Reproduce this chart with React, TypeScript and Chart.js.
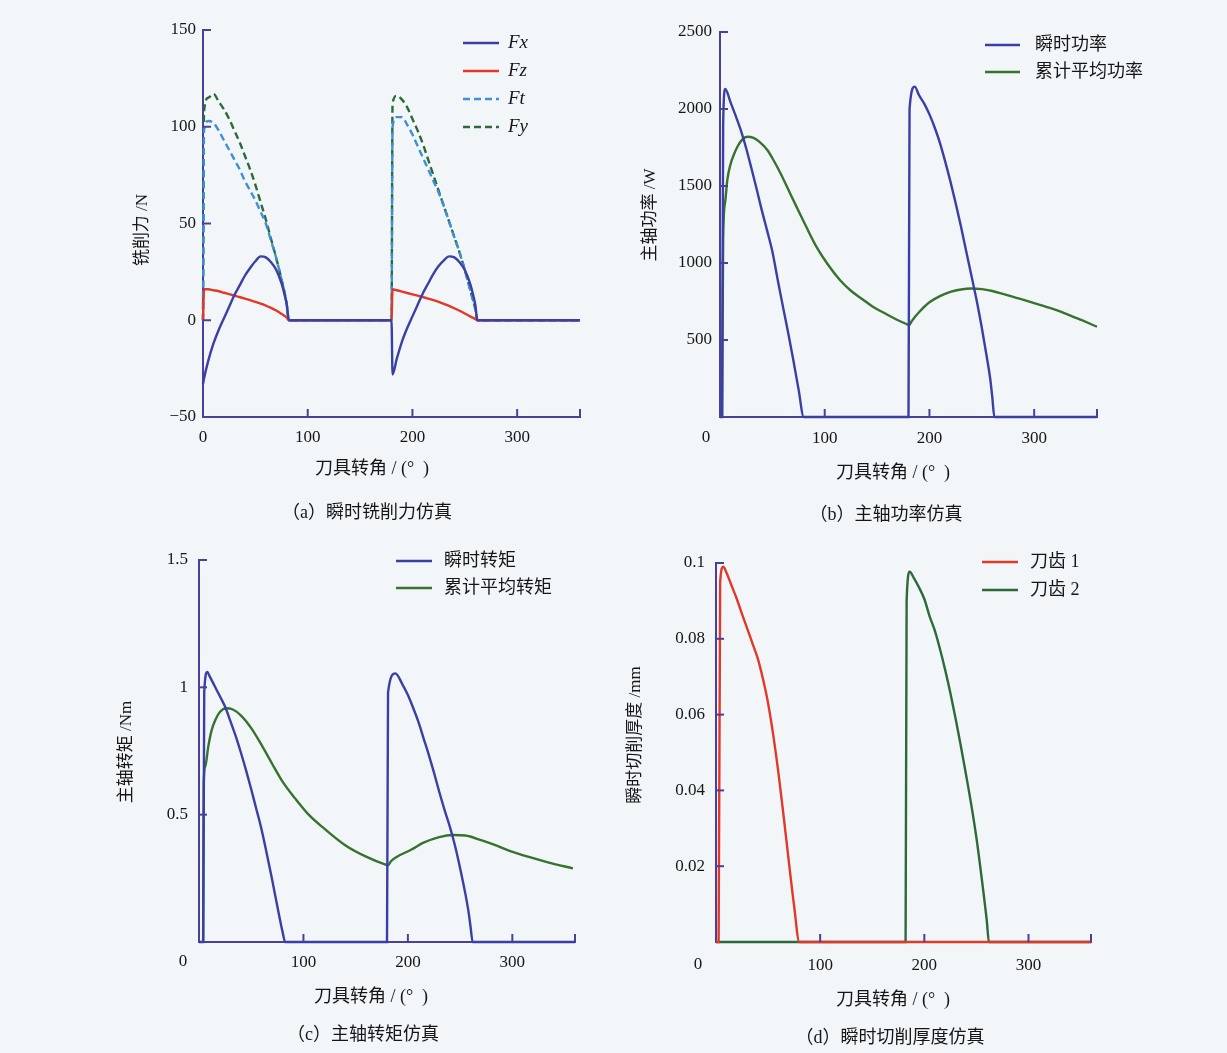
import React, { useEffect, useRef } from 'react';
import { Chart, registerables } from 'chart.js';

Chart.register(...registerables);

const W = 1227;
const H = 1053;

// ---------- colours & fonts ----------
const BLUE = '#3a3fa6';
const RED = '#e2382a';
const LBLUE = '#3c8fd8';
const DGREEN = '#2d6a3a';
const GREEN = '#37722f';
const AXIS = '#4b3f9b';
const BG = '#f2f6f9';
const NUMF = '"Liberation Serif", "DejaVu Serif", serif';
const CJKF = '"Liberation Serif", "Noto Sans CJK SC", sans-serif';

// ---------- shared ticks ----------
const X_TICKS = [0, 100, 200, 300];
const X_TITLE = '刀具转角 / (°  )';

// ---------- (a) milling force ----------
const ANG_A = [0, 1, 5, 10, 15, 20, 25, 30, 35, 40, 45, 50, 55, 60, 65, 70, 75, 78, 80, 82,
  100, 150, 180,
  181, 185, 190, 195, 200, 205, 210, 215, 220, 225, 230, 235, 240, 245, 250, 255, 258, 260, 262,
  300, 360];
const FX = [-33, -30, -21, -12, -5, 1, 7, 13, 18, 23, 27, 30.5, 33, 32.5, 30, 26, 19, 13, 8, 0,
  0, 0, 0,
  -28, -20, -11, -4, 2, 8, 14, 19, 24, 28, 31, 33, 32.5, 30, 26, 19, 13, 8, 0,
  0, 0];
const FZ = [0, 16, 16, 15.5, 15, 14.2, 13.5, 12.7, 12, 11.2, 10.4, 9.5, 8.6, 7.6, 6.4, 5, 3.3, 2.2, 1.3, 0,
  0, 0, 0,
  16, 15.5, 14.8, 14.1, 13.4, 12.7, 12, 11.2, 10.4, 9.5, 8.5, 7.4, 6.2, 4.9, 3.5, 2, 1.2, 0.6, 0,
  0, 0];
const FT = [0, 98, 103, 102, 98, 93, 88, 83, 78, 72, 67, 62, 56, 50, 41, 32, 21, 14, 8, 0,
  0, 0, 0,
  100, 105, 105, 101, 96, 90, 84, 78, 72, 66, 59, 51, 43, 35, 26, 16, 10, 6, 0,
  0, 0];
const FY = [0, 108, 115, 117, 113, 109, 104, 98, 92, 85, 78, 70, 61, 52, 42, 32, 21, 14, 8, 0,
  0, 0, 0,
  112, 116, 114, 110, 104, 98, 91, 83, 75, 67, 59, 51, 43, 35, 26, 16, 10, 6, 0,
  0, 0];
const A_Y_TICKS = [-50, 0, 50, 100, 150];

// ---------- (b) spindle power ----------
const ANG_B_INST = [0, 2, 3, 5, 10, 15, 20, 25, 30, 35, 40, 45, 50, 55, 60, 65, 70, 75, 80,
  120, 180,
  181, 186, 190, 195, 200, 205, 210, 215, 220, 225, 230, 235, 240, 245, 250, 255, 258, 260, 262,
  300, 360];
const P_INST = [0, 0, 1900, 2130, 2045, 1955, 1860, 1745, 1615, 1480, 1340, 1210, 1075, 895, 720, 550, 370, 180, 0,
  0, 0,
  2000, 2145, 2090, 2035, 1965, 1880, 1780, 1660, 1530, 1390, 1240, 1080, 920, 760, 580, 380, 250, 130, 0,
  0, 0];
const ANG_B_AVG = [2, 3, 5, 7, 10, 13, 17, 21, 26, 32, 38, 45, 51, 58, 65, 73, 82, 92, 103, 114.5,
  125, 136, 146, 157, 168, 178, 180.6, 183, 190, 200, 210, 220, 230, 240, 250, 260, 270, 285, 300, 315, 330, 345, 360];
const P_AVG = [0, 1150, 1400, 1540, 1640, 1700, 1760, 1800, 1820, 1812, 1785, 1735, 1669, 1580, 1480, 1366, 1240, 1106, 990, 890,
  820, 765, 716, 675, 635, 604, 597, 622, 680, 745, 785, 812, 828, 834, 830, 818, 800, 770, 740, 708, 672, 630, 586];
const B_Y_TICKS = [0, 500, 1000, 1500, 2000, 2500];

// ---------- (c) spindle torque ----------
const ANG_C_INST = [0, 4, 5, 8, 10, 15, 20, 25, 30, 35, 40, 45, 50, 55, 57, 60, 65, 70, 75, 80, 82.5,
  120, 180,
  181, 188, 195, 200, 205, 210, 215, 220, 225, 230, 235, 240, 245, 250, 255, 258, 260, 262,
  300, 360];
const T_INST = [0, 0, 0.98, 1.06, 1.045, 1.005, 0.965, 0.924, 0.868, 0.81, 0.745, 0.675, 0.6, 0.52, 0.49, 0.44, 0.345, 0.245, 0.14, 0.04, 0,
  0, 0,
  0.98, 1.055, 1.01, 0.97, 0.92, 0.865, 0.8, 0.735, 0.665, 0.59, 0.52, 0.455, 0.38, 0.29, 0.19, 0.12, 0.06, 0,
  0, 0];
const ANG_C_AVG = [4, 4.5, 6, 9, 12, 16, 20, 26, 32, 40, 50, 60, 70, 80, 92, 105, 120, 139.6, 160, 178,
  181, 184, 190, 203, 215, 230, 243, 255, 270, 285, 298, 315, 335, 358];
const T_AVG = [0, 0.62, 0.69, 0.77, 0.83, 0.875, 0.903, 0.918, 0.914, 0.89, 0.84, 0.773, 0.7, 0.63, 0.564, 0.5, 0.445, 0.381, 0.335, 0.305,
  0.302, 0.318, 0.336, 0.362, 0.39, 0.412, 0.42, 0.418, 0.4, 0.378, 0.357, 0.335, 0.312, 0.289];
const C_Y_TICKS = [0, 0.5, 1, 1.5];

// ---------- (d) cutting thickness ----------
const ANG_D1 = [0, 2.5, 4, 7, 10, 15, 20, 25, 30, 35, 40, 45, 50, 55, 60, 65, 70, 75, 80, 120, 180, 240, 300, 360];
const TOOTH1 = [0, 0, 0.095, 0.099, 0.0975, 0.094, 0.0905, 0.0865, 0.0827, 0.0788, 0.0749, 0.0695, 0.063, 0.0545, 0.0445, 0.033, 0.021, 0.0095, 0, 0, 0, 0, 0, 0];
const ANG_D2 = [0, 60, 120, 182, 183, 186, 190, 195, 200, 205, 210, 215, 220, 225, 230, 235, 240, 245, 250, 255, 260, 262, 300, 360];
const TOOTH2 = [0, 0, 0, 0, 0.09, 0.0977, 0.096, 0.0935, 0.0905, 0.086, 0.0822, 0.0773, 0.0718, 0.0657, 0.059, 0.0518, 0.0442, 0.0363, 0.0275, 0.017, 0.0055, 0, 0, 0];
const D_Y_TICKS = [0, 0.02, 0.04, 0.06, 0.08, 0.1];

// ---------- helpers ----------
const toXY = (xs: number[], ys: number[]) => xs.map((x, i) => ({ x, y: ys[i] }));

const decoPlugin = {
  id: 'deco',
  afterDraw(chart: any, _args: any, o: any) {
    const ctx = chart.ctx as CanvasRenderingContext2D;
    const ca = chart.chartArea;
    const xs = chart.scales.x;
    const ys = chart.scales.y;
    const TL = 8;
    ctx.save();
    ctx.strokeStyle = AXIS;
    ctx.lineWidth = 2;
    const line = (x1: number, y1: number, x2: number, y2: number) => {
      ctx.beginPath();
      ctx.moveTo(x1, y1);
      ctx.lineTo(x2, y2);
      ctx.stroke();
    };
    for (const t of ys.ticks) {
      const py = ys.getPixelForValue(t.value);
      if (Math.abs(py - ca.bottom) < 2) continue;
      line(ca.left, py, ca.left + TL, py);
    }
    for (const t of xs.ticks) {
      const px = xs.getPixelForValue(t.value);
      if (Math.abs(px - ca.left) < 2) continue;
      line(px, ca.bottom, px, ca.bottom - TL);
    }
    line(ca.right, ca.bottom, ca.right, ca.bottom - TL);

    ctx.fillStyle = '#161616';
    if (o.zero) {
      ctx.font = `17px ${NUMF}`;
      ctx.textAlign = 'center';
      ctx.textBaseline = 'middle';
      ctx.fillText('0', o.zero.x, o.zero.y);
    }
    ctx.textAlign = 'center';
    ctx.textBaseline = 'middle';
    ctx.font = `18px ${CJKF}`;
    ctx.fillText(o.xTitle.text, o.xTitle.x, o.xTitle.y);
    ctx.font = `18px ${CJKF}`;
    ctx.fillText(o.caption.text, o.caption.x, o.caption.y);
    ctx.save();
    ctx.translate(o.yTitle.x, o.yTitle.y);
    ctx.rotate(-Math.PI / 2);
    ctx.font = `17px ${CJKF}`;
    ctx.fillText(o.yTitle.text, 0, 0);
    ctx.restore();
    const lg = o.legend;
    chart.data.datasets.forEach((d: any, i: number) => {
      const y = lg.y + i * lg.dy;
      ctx.save();
      ctx.strokeStyle = d.borderColor;
      ctx.lineWidth = 2.6;
      ctx.setLineDash(d.borderDash || []);
      line(lg.x1, y, lg.x2, y);
      ctx.restore();
      ctx.textAlign = 'left';
      ctx.textBaseline = 'middle';
      ctx.font = lg.italic ? `italic 19px ${NUMF}` : `18px ${CJKF}`;
      ctx.fillText(d.label, lg.tx, y);
    });
    ctx.restore();
  },
};

type Area = { l: number; r: number; t: number; b: number };

function makeConfig(p: {
  area: Area;
  yMin: number;
  yMax: number;
  yTicks: number[];
  yFmt: (v: number) => string;
  xFmt: (v: number) => string;
  xPad: number;
  yPad: number;
  datasets: any[];
  deco: any;
}) {
  return {
    type: 'line' as const,
    data: { datasets: p.datasets },
    options: {
      responsive: false,
      animation: false as const,
      devicePixelRatio: 1,
      layout: { padding: { left: 0, right: W - p.area.r, top: p.area.t, bottom: 0 } },
      plugins: { legend: { display: false }, tooltip: { enabled: false }, deco: p.deco },
      elements: {
        point: { radius: 0 },
        line: { borderWidth: 2, cubicInterpolationMode: 'monotone' as const },
      },
      scales: {
        x: {
          type: 'linear' as const,
          min: 0,
          max: 360,
          afterFit: (s: any) => { s.height = H - p.area.b; },
          afterBuildTicks: (s: any) => { s.ticks = X_TICKS.map((v) => ({ value: v })); },
          grid: { display: false, drawTicks: false },
          border: { display: true, color: AXIS, width: 2 },
          ticks: {
            padding: p.xPad,
            color: '#161616',
            font: { family: NUMF, size: 17 },
            maxRotation: 0,
            autoSkip: false,
            callback: (v: any) => p.xFmt(Number(v)),
          },
        },
        y: {
          type: 'linear' as const,
          min: p.yMin,
          max: p.yMax,
          afterFit: (s: any) => { s.width = p.area.l; },
          afterBuildTicks: (s: any) => { s.ticks = p.yTicks.map((v) => ({ value: v })); },
          grid: { display: false, drawTicks: false },
          border: { display: true, color: AXIS, width: 2 },
          ticks: {
            padding: p.yPad,
            color: '#161616',
            font: { family: NUMF, size: 17 },
            autoSkip: false,
            callback: (v: any) => p.yFmt(Number(v)),
          },
        },
      },
    },
    plugins: [decoPlugin],
  };
}

const ds = (label: string, xs: number[], ys: number[], color: string, dash?: number[]) => ({
  label,
  data: toXY(xs, ys),
  borderColor: color,
  backgroundColor: color,
  borderDash: dash || [],
  borderWidth: 2.4,
  fill: false,
  clip: false,
});

const plain = (v: number) => String(v);
const noZero = (v: number) => (v === 0 ? '' : String(v));

const CONFIGS = [
  makeConfig({
    area: { l: 203, r: 580, t: 30, b: 417 },
    yMin: -50, yMax: 150, yTicks: A_Y_TICKS,
    yFmt: (v) => (v < 0 ? '\u2212' + Math.abs(v) : String(v)),
    xFmt: plain, xPad: 10, yPad: 7,
    datasets: [
      ds('Fx', ANG_A, FX, BLUE),
      ds('Fz', ANG_A, FZ, RED),
      ds('Ft', ANG_A, FT, LBLUE, [7, 4]),
      ds('Fy', ANG_A, FY, DGREEN, [7, 4]),
    ],
    deco: {
      xTitle: { text: X_TITLE, x: 372, y: 469 },
      caption: { text: '（a）瞬时铣削力仿真', x: 367, y: 513 },
      yTitle: { text: '铣削力 /N', x: 143, y: 230 },
      legend: { x1: 463, x2: 499, tx: 508, y: 43, dy: 28, italic: true },
    },
  }),
  makeConfig({
    area: { l: 720, r: 1097, t: 32, b: 417 },
    yMin: 0, yMax: 2500, yTicks: B_Y_TICKS,
    yFmt: noZero, xFmt: noZero, xPad: 11, yPad: 8,
    datasets: [
      ds('瞬时功率', ANG_B_INST, P_INST, BLUE),
      ds('累计平均功率', ANG_B_AVG, P_AVG, GREEN),
    ],
    deco: {
      zero: { x: 706, y: 438 },
      xTitle: { text: X_TITLE, x: 893, y: 473 },
      caption: { text: '（b）主轴功率仿真', x: 886, y: 515 },
      yTitle: { text: '主轴功率 /W', x: 651, y: 215 },
      legend: { x1: 985, x2: 1020, tx: 1035, y: 45, dy: 27, italic: false },
    },
  }),
  makeConfig({
    area: { l: 199, r: 575, t: 560, b: 942 },
    yMin: 0, yMax: 1.5, yTicks: C_Y_TICKS,
    yFmt: noZero, xFmt: noZero, xPad: 10, yPad: 11,
    datasets: [
      ds('瞬时转矩', ANG_C_INST, T_INST, BLUE),
      ds('累计平均转矩', ANG_C_AVG, T_AVG, GREEN),
    ],
    deco: {
      zero: { x: 183, y: 962 },
      xTitle: { text: X_TITLE, x: 371, y: 997 },
      caption: { text: '（c）主轴转矩仿真', x: 363, y: 1035 },
      yTitle: { text: '主轴转矩 /Nm', x: 127, y: 752 },
      legend: { x1: 396, x2: 432, tx: 444, y: 561, dy: 27, italic: false },
    },
  }),
  makeConfig({
    area: { l: 716, r: 1091, t: 563, b: 942 },
    yMin: 0, yMax: 0.1, yTicks: D_Y_TICKS,
    yFmt: (v) => (v === 0 ? '' : String(Number(v.toFixed(2)))),
    xFmt: noZero, xPad: 13, yPad: 11,
    datasets: [
      ds('刀齿 1', ANG_D1, TOOTH1, RED),
      ds('刀齿 2', ANG_D2, TOOTH2, DGREEN),
    ],
    deco: {
      zero: { x: 698, y: 965 },
      xTitle: { text: X_TITLE, x: 893, y: 1000 },
      caption: { text: '（d）瞬时切削厚度仿真', x: 890, y: 1038 },
      yTitle: { text: '瞬时切削厚度 /mm', x: 636, y: 735 },
      legend: { x1: 982, x2: 1018, tx: 1030, y: 562, dy: 28, italic: false },
    },
  }),
];

function Panel({ config }: { config: any }) {
  const ref = useRef<HTMLCanvasElement>(null);
  useEffect(() => {
    const chart = new Chart(ref.current as HTMLCanvasElement, config);
    return () => chart.destroy();
  }, [config]);
  return (
    <canvas
      ref={ref}
      width={W}
      height={H}
      style={{ position: 'absolute', left: 0, top: 0, width: W, height: H, display: 'block' }}
    />
  );
}

export default function App() {
  return (
    <div style={{ position: 'absolute', left: 0, top: 0, width: W, height: H, background: BG, overflow: 'hidden' }}>
      {CONFIGS.map((c, i) => (
        <Panel key={i} config={c} />
      ))}
    </div>
  );
}
